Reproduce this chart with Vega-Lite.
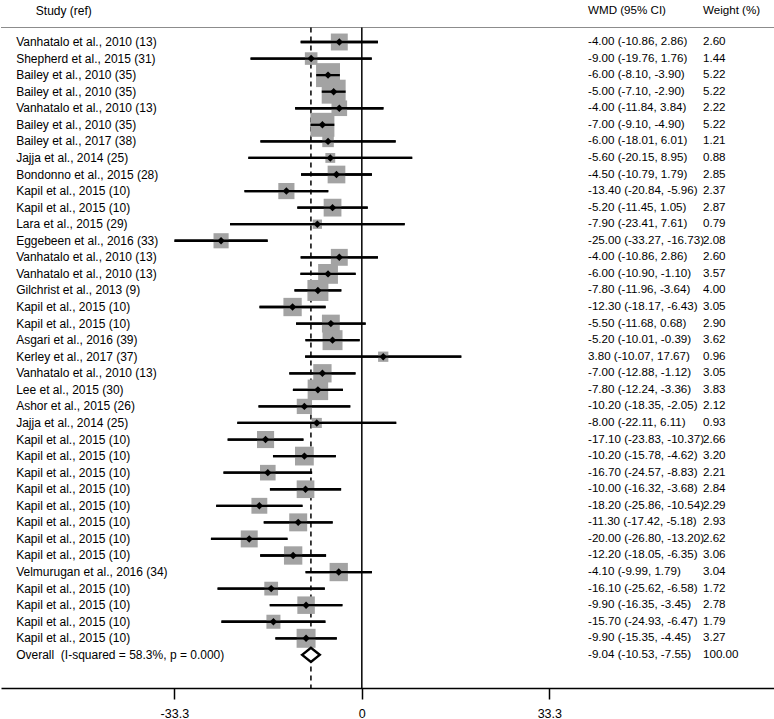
{
  "$schema": "https://vega.github.io/schema/vega-lite/v6.json",
  "width": 774,
  "height": 688,
  "padding": 0,
  "background": "white",
  "config": {"view": {"stroke": null}, "font": "Liberation Sans", "axis": {"grid": false}},
  "datasets": {
    "studies": [
      {"row": 1, "type": "study", "study": "Vanhatalo et al., 2010 (13)", "wmd": -4.00, "lo": -10.86, "hi": 2.86, "weight": 2.60, "ci": "-4.00 (-10.86, 2.86)"},
      {"row": 2, "type": "study", "study": "Shepherd et al., 2015 (31)", "wmd": -9.00, "lo": -19.76, "hi": 1.76, "weight": 1.44, "ci": "-9.00 (-19.76, 1.76)"},
      {"row": 3, "type": "study", "study": "Bailey et al., 2010 (35)", "wmd": -6.00, "lo": -8.10, "hi": -3.90, "weight": 5.22, "ci": "-6.00 (-8.10, -3.90)"},
      {"row": 4, "type": "study", "study": "Bailey et al., 2010 (35)", "wmd": -5.00, "lo": -7.10, "hi": -2.90, "weight": 5.22, "ci": "-5.00 (-7.10, -2.90)"},
      {"row": 5, "type": "study", "study": "Vanhatalo et al., 2010 (13)", "wmd": -4.00, "lo": -11.84, "hi": 3.84, "weight": 2.22, "ci": "-4.00 (-11.84, 3.84)"},
      {"row": 6, "type": "study", "study": "Bailey et al., 2010 (35)", "wmd": -7.00, "lo": -9.10, "hi": -4.90, "weight": 5.22, "ci": "-7.00 (-9.10, -4.90)"},
      {"row": 7, "type": "study", "study": "Bailey et al., 2017 (38)", "wmd": -6.00, "lo": -18.01, "hi": 6.01, "weight": 1.21, "ci": "-6.00 (-18.01, 6.01)"},
      {"row": 8, "type": "study", "study": "Jajja et al., 2014 (25)", "wmd": -5.60, "lo": -20.15, "hi": 8.95, "weight": 0.88, "ci": "-5.60 (-20.15, 8.95)"},
      {"row": 9, "type": "study", "study": "Bondonno et al., 2015 (28)", "wmd": -4.50, "lo": -10.79, "hi": 1.79, "weight": 2.85, "ci": "-4.50 (-10.79, 1.79)"},
      {"row": 10, "type": "study", "study": "Kapil et al., 2015 (10)", "wmd": -13.40, "lo": -20.84, "hi": -5.96, "weight": 2.37, "ci": "-13.40 (-20.84, -5.96)"},
      {"row": 11, "type": "study", "study": "Kapil et al., 2015 (10)", "wmd": -5.20, "lo": -11.45, "hi": 1.05, "weight": 2.87, "ci": "-5.20 (-11.45, 1.05)"},
      {"row": 12, "type": "study", "study": "Lara et al., 2015 (29)", "wmd": -7.90, "lo": -23.41, "hi": 7.61, "weight": 0.79, "ci": "-7.90 (-23.41, 7.61)"},
      {"row": 13, "type": "study", "study": "Eggebeen et al., 2016 (33)", "wmd": -25.00, "lo": -33.27, "hi": -16.73, "weight": 2.08, "ci": "-25.00 (-33.27, -16.73)"},
      {"row": 14, "type": "study", "study": "Vanhatalo et al., 2010 (13)", "wmd": -4.00, "lo": -10.86, "hi": 2.86, "weight": 2.60, "ci": "-4.00 (-10.86, 2.86)"},
      {"row": 15, "type": "study", "study": "Vanhatalo et al., 2010 (13)", "wmd": -6.00, "lo": -10.90, "hi": -1.10, "weight": 3.57, "ci": "-6.00 (-10.90, -1.10)"},
      {"row": 16, "type": "study", "study": "Gilchrist et al., 2013 (9)", "wmd": -7.80, "lo": -11.96, "hi": -3.64, "weight": 4.00, "ci": "-7.80 (-11.96, -3.64)"},
      {"row": 17, "type": "study", "study": "Kapil et al., 2015 (10)", "wmd": -12.30, "lo": -18.17, "hi": -6.43, "weight": 3.05, "ci": "-12.30 (-18.17, -6.43)"},
      {"row": 18, "type": "study", "study": "Kapil et al., 2015 (10)", "wmd": -5.50, "lo": -11.68, "hi": 0.68, "weight": 2.90, "ci": "-5.50 (-11.68, 0.68)"},
      {"row": 19, "type": "study", "study": "Asgari et al., 2016 (39)", "wmd": -5.20, "lo": -10.01, "hi": -0.39, "weight": 3.62, "ci": "-5.20 (-10.01, -0.39)"},
      {"row": 20, "type": "study", "study": "Kerley et al., 2017 (37)", "wmd": 3.80, "lo": -10.07, "hi": 17.67, "weight": 0.96, "ci": "3.80 (-10.07, 17.67)"},
      {"row": 21, "type": "study", "study": "Vanhatalo et al., 2010 (13)", "wmd": -7.00, "lo": -12.88, "hi": -1.12, "weight": 3.05, "ci": "-7.00 (-12.88, -1.12)"},
      {"row": 22, "type": "study", "study": "Lee et al., 2015 (30)", "wmd": -7.80, "lo": -12.24, "hi": -3.36, "weight": 3.83, "ci": "-7.80 (-12.24, -3.36)"},
      {"row": 23, "type": "study", "study": "Ashor et al., 2015 (26)", "wmd": -10.20, "lo": -18.35, "hi": -2.05, "weight": 2.12, "ci": "-10.20 (-18.35, -2.05)"},
      {"row": 24, "type": "study", "study": "Jajja et al., 2014 (25)", "wmd": -8.00, "lo": -22.11, "hi": 6.11, "weight": 0.93, "ci": "-8.00 (-22.11, 6.11)"},
      {"row": 25, "type": "study", "study": "Kapil et al., 2015 (10)", "wmd": -17.10, "lo": -23.83, "hi": -10.37, "weight": 2.66, "ci": "-17.10 (-23.83, -10.37)"},
      {"row": 26, "type": "study", "study": "Kapil et al., 2015 (10)", "wmd": -10.20, "lo": -15.78, "hi": -4.62, "weight": 3.20, "ci": "-10.20 (-15.78, -4.62)"},
      {"row": 27, "type": "study", "study": "Kapil et al., 2015 (10)", "wmd": -16.70, "lo": -24.57, "hi": -8.83, "weight": 2.21, "ci": "-16.70 (-24.57, -8.83)"},
      {"row": 28, "type": "study", "study": "Kapil et al., 2015 (10)", "wmd": -10.00, "lo": -16.32, "hi": -3.68, "weight": 2.84, "ci": "-10.00 (-16.32, -3.68)"},
      {"row": 29, "type": "study", "study": "Kapil et al., 2015 (10)", "wmd": -18.20, "lo": -25.86, "hi": -10.54, "weight": 2.29, "ci": "-18.20 (-25.86, -10.54)"},
      {"row": 30, "type": "study", "study": "Kapil et al., 2015 (10)", "wmd": -11.30, "lo": -17.42, "hi": -5.18, "weight": 2.93, "ci": "-11.30 (-17.42, -5.18)"},
      {"row": 31, "type": "study", "study": "Kapil et al., 2015 (10)", "wmd": -20.00, "lo": -26.80, "hi": -13.20, "weight": 2.62, "ci": "-20.00 (-26.80, -13.20)"},
      {"row": 32, "type": "study", "study": "Kapil et al., 2015 (10)", "wmd": -12.20, "lo": -18.05, "hi": -6.35, "weight": 3.06, "ci": "-12.20 (-18.05, -6.35)"},
      {"row": 33, "type": "study", "study": "Velmurugan et al., 2016 (34)", "wmd": -4.10, "lo": -9.99, "hi": 1.79, "weight": 3.04, "ci": "-4.10 (-9.99, 1.79)"},
      {"row": 34, "type": "study", "study": "Kapil et al., 2015 (10)", "wmd": -16.10, "lo": -25.62, "hi": -6.58, "weight": 1.72, "ci": "-16.10 (-25.62, -6.58)"},
      {"row": 35, "type": "study", "study": "Kapil et al., 2015 (10)", "wmd": -9.90, "lo": -16.35, "hi": -3.45, "weight": 2.78, "ci": "-9.90 (-16.35, -3.45)"},
      {"row": 36, "type": "study", "study": "Kapil et al., 2015 (10)", "wmd": -15.70, "lo": -24.93, "hi": -6.47, "weight": 1.79, "ci": "-15.70 (-24.93, -6.47)"},
      {"row": 37, "type": "study", "study": "Kapil et al., 2015 (10)", "wmd": -9.90, "lo": -15.35, "hi": -4.45, "weight": 3.27, "ci": "-9.90 (-15.35, -4.45)"},
      {"row": 38, "type": "overall", "study": "Overall\u00a0 (I-squared = 58.3%, p = 0.000)", "wmd": -9.04, "lo": -10.53, "hi": -7.55, "weight": 100.00, "ci": "-9.04 (-10.53, -7.55)"}
    ],
    "headers": [
      {"label": "Study (ref)", "col": "study"},
      {"label": "WMD (95% CI)", "col": "wmd"},
      {"label": "Weight (%)", "col": "weight"}
    ]
  },
  "data": {"name": "studies"},
  "layer": [
    {
      "transform": [{"filter": "datum.type == 'study'"}],
      "mark": {"type": "rule", "stroke": "#000000", "strokeWidth": 2.3},
      "encoding": {
        "x": {
          "field": "lo", "type": "quantitative", "title": null,
          "scale": {"domain": [-64.09, 73.39], "nice": false, "zero": false},
          "axis": {
            "values": [-33.3, 0, 33.3],
            "title": null,
            "grid": false,
            "labelExpr": "datum.value == 0 ? '0' : (datum.value < 0 ? '-' : '') + format(abs(datum.value), '.1f')",
            "tickSize": 11,
            "tickWidth": 1.5,
            "tickColor": "#000000",
            "domainColor": "#000000",
            "domainWidth": 1.5,
            "labelPadding": 8,
            "labelFontSize": 12.5,
            "labelFont": "Liberation Sans",
            "labelColor": "#000000"
          }
        },
        "x2": {"field": "hi"},
        "y": {"field": "row", "type": "quantitative", "scale": {"domain": [-1.535, 40], "reverse": true, "nice": false, "zero": false}, "axis": null}
      }
    },
    {
      "data": {"values": [{}]},
      "mark": {"type": "rule", "stroke": "#8c8c8c", "strokeWidth": 1.2},
      "encoding": {
        "y": {"datum": 0.125, "type": "quantitative", "axis": null}
      }
    },
    {
      "data": {"values": [{}]},
      "mark": {"type": "rule", "stroke": "#000000", "strokeWidth": 1.5},
      "encoding": {
        "x": {"datum": 0, "type": "quantitative", "title": null},
        "y": {"datum": 0.125, "type": "quantitative", "axis": null},
        "y2": {"datum": 40}
      }
    },
    {
      "data": {"values": [{}]},
      "mark": {"type": "rule", "stroke": "#000000", "strokeWidth": 1.5, "strokeDash": [5, 4]},
      "encoding": {
        "x": {"datum": -9.04, "type": "quantitative", "title": null},
        "y": {"datum": 0.125, "type": "quantitative", "axis": null},
        "y2": {"datum": 40}
      }
    },
    {
      "transform": [{"filter": "datum.type == 'study'"}],
      "mark": {"type": "point", "shape": "square", "filled": true, "color": "#a3a3a3", "opacity": 1, "strokeWidth": 0},
      "encoding": {
        "x": {"field": "wmd", "type": "quantitative", "title": null},
        "y": {"field": "row", "type": "quantitative", "axis": null},
        "size": {"field": "weight", "type": "quantitative", "scale": {"domain": [0, 10], "range": [0, 1100], "zero": true}, "legend": null}
      }
    },
    {
      "transform": [{"filter": "datum.type == 'study'"}],
      "mark": {"type": "rule", "stroke": "#000000", "strokeWidth": 2.3},
      "encoding": {
        "x": {"field": "lo", "type": "quantitative", "title": null},
        "x2": {"field": "hi"},
        "y": {"field": "row", "type": "quantitative", "axis": null}
      }
    },
    {
      "transform": [{"filter": "datum.type == 'study'"}],
      "mark": {"type": "point", "shape": "diamond", "filled": true, "color": "#000000", "opacity": 1, "size": 55, "strokeWidth": 0},
      "encoding": {
        "x": {"field": "wmd", "type": "quantitative", "title": null},
        "y": {"field": "row", "type": "quantitative", "axis": null}
      }
    },
    {
      "transform": [{"filter": "datum.type == 'overall'"}],
      "mark": {"type": "point", "shape": "M-1,0L0,-0.8L1,0L0,0.8Z", "filled": true, "fill": "#ffffff", "stroke": "#000000", "strokeWidth": 2.5, "opacity": 1, "size": 310},
      "encoding": {
        "x": {"field": "wmd", "type": "quantitative", "title": null},
        "y": {"field": "row", "type": "quantitative", "axis": null}
      }
    },
    {
      "mark": {"type": "text", "align": "left", "baseline": "middle", "fontSize": 12, "font": "Liberation Sans", "color": "#000000"},
      "encoding": {
        "x": {"datum": -61.4, "type": "quantitative", "title": null},
        "y": {"field": "row", "type": "quantitative", "axis": null},
        "text": {"field": "study"}
      }
    },
    {
      "mark": {"type": "text", "align": "left", "baseline": "middle", "fontSize": 11.6, "font": "Liberation Sans", "color": "#000000"},
      "encoding": {
        "x": {"datum": 40.18, "type": "quantitative", "title": null},
        "y": {"field": "row", "type": "quantitative", "axis": null},
        "text": {"field": "ci"}
      }
    },
    {
      "mark": {"type": "text", "align": "left", "baseline": "middle", "fontSize": 11.6, "font": "Liberation Sans", "color": "#000000"},
      "encoding": {
        "x": {"datum": 60.6, "type": "quantitative", "title": null},
        "y": {"field": "row", "type": "quantitative", "axis": null},
        "text": {"field": "weight", "type": "quantitative", "format": ".2f"}
      }
    },
    {
      "data": {"name": "headers"},
      "transform": [{"filter": "datum.col == 'study'"}],
      "mark": {"type": "text", "align": "left", "baseline": "middle", "fontSize": 12, "font": "Liberation Sans", "color": "#000000"},
      "encoding": {
        "x": {"datum": -57.9, "type": "quantitative", "title": null},
        "y": {"datum": -0.9, "type": "quantitative", "axis": null},
        "text": {"field": "label"}
      }
    },
    {
      "data": {"name": "headers"},
      "transform": [{"filter": "datum.col == 'wmd'"}],
      "mark": {"type": "text", "align": "left", "baseline": "middle", "fontSize": 11.6, "font": "Liberation Sans", "color": "#000000"},
      "encoding": {
        "x": {"datum": 40.18, "type": "quantitative", "title": null},
        "y": {"datum": -0.9, "type": "quantitative", "axis": null},
        "text": {"field": "label"}
      }
    },
    {
      "data": {"name": "headers"},
      "transform": [{"filter": "datum.col == 'weight'"}],
      "mark": {"type": "text", "align": "left", "baseline": "middle", "fontSize": 11.6, "font": "Liberation Sans", "color": "#000000"},
      "encoding": {
        "x": {"datum": 60.6, "type": "quantitative", "title": null},
        "y": {"datum": -0.9, "type": "quantitative", "axis": null},
        "text": {"field": "label"}
      }
    }
  ]
}
